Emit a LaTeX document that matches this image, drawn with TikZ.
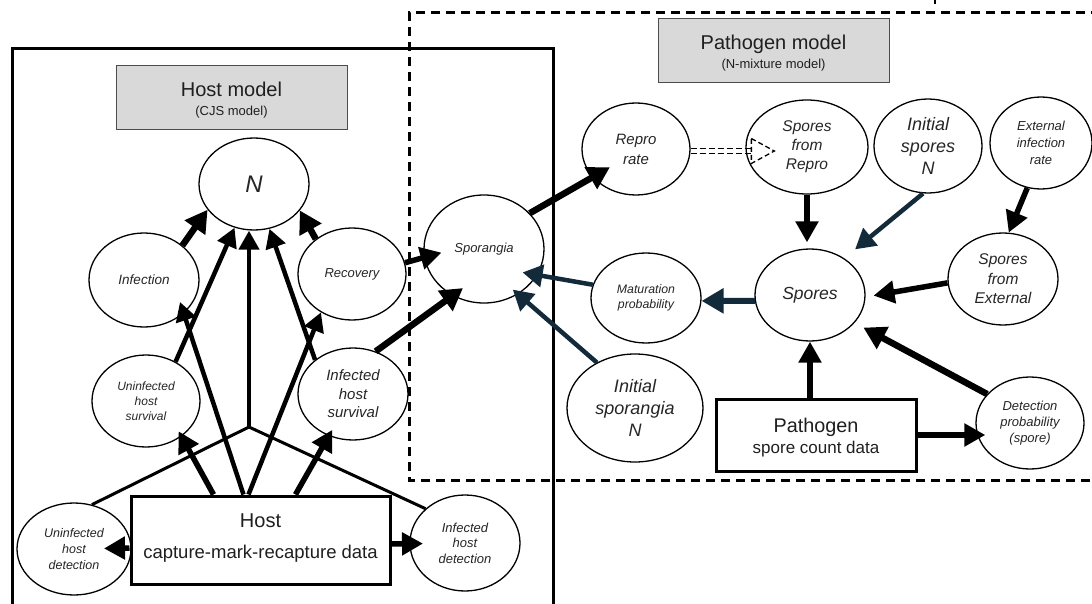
\documentclass[tikz,border=0pt]{standalone}
\usepackage{fontspec}
\setmainfont{Liberation Sans}
\usetikzlibrary{shapes.geometric,arrows.meta}
\newcommand{\myfs}[2]{\fontsize{#1}{#2}\selectfont}
\definecolor{nv}{RGB}{18,42,58}
\definecolor{tgray}{RGB}{217,217,217}
\begin{document}
\begin{tikzpicture}[x=1pt,y=-1pt,
 ell/.style={ellipse,draw,fill=white,line width=1.3pt,inner sep=0pt,align=center,text=black!85},
 esz/.style 2 args={minimum width=#1,minimum height=#2},
 dbox/.style={rectangle,draw,fill=white,line width=3pt,inner sep=0pt},
 tbox/.style={rectangle,draw=black!70,fill=tgray,line width=1pt,inner sep=0pt},
 ttext/.style={anchor=base,inner sep=0pt,text=black!88},
 arr/.style={line width=4.5pt,-{Triangle[length=19pt,width=20pt]}},
 arrM/.style={line width=5.5pt,-{Triangle[length=21pt,width=22pt]}},
 arrB/.style={line width=6.5pt,-{Triangle[length=22pt,width=24pt]}},
 nvA/.style={draw=nv,line width=4.5pt,-{Triangle[length=20pt,width=22pt]}},
 nvB/.style={draw=nv,line width=6pt,-{Triangle[length=22pt,width=24pt]}},
 link/.style={line width=3pt},
 ddash/.style={line width=1.3pt,dash pattern=on 6pt off 3pt},
 ]
\useasboundingbox (0,0) rectangle (1092,604);
\fill[white] (0,0) rectangle (1092,604);

% outer boxes
\draw[line width=3pt] (12,620) -- (12,49) -- (553,49) -- (553,620);
\draw[line width=3pt,dash pattern=on 9pt off 6pt] (1100,13) -- (409,13) -- (409,480) -- (1100,480);
\draw[line width=1.5pt] (935,0) -- (935,4);

% titles
\node[tbox,minimum width=231pt,minimum height=64pt] (ht) at (231.5,98) {};
\node[ttext,font=\myfs{20}{24}] (ht1) at (231.5,97) {Host model};
\node[ttext,font=\myfs{13}{16}] (ht2) at (231.5,116) {(CJS model)};
\node[tbox,minimum width=231pt,minimum height=64pt] (pt) at (773.5,51) {};
\node[ttext,font=\myfs{20}{24}] (pt1) at (773.5,50) {Pathogen model};
\node[ttext,font=\myfs{13}{16}] (pt2) at (773.5,69) {(N-mixture model)};

% host nodes
\node[ell,esz={110pt}{92pt},font=\itshape\myfs{24}{28}] (N) at (254,184) {N};
\node[ell,esz={110pt}{94pt},font=\itshape\myfs{13.5}{16}] (inf) at (144,280) {Infection};
\node[ell,esz={108pt}{92pt},font=\itshape\myfs{13}{16}] (rec) at (352,274) {Recovery};
\node[ell,esz={108pt}{92pt},font=\itshape\myfs{12}{15}] (ush) at (146,401) {Uninfected\\host\\survival};
\node[ell,esz={110pt}{92pt},font=\itshape\myfs{15}{18.5}] (ihs) at (353,394) {Infected\\host\\survival};
\node[ell,esz={114pt}{92pt},font=\itshape\myfs{12.5}{16}] (uhd) at (74,549) {Uninfected\\host\\detection};
\node[ell,esz={110pt}{96pt},font=\itshape\myfs{13}{15.5}] (ihd) at (465,543) {Infected\\host\\detection};
\node[dbox,minimum width=259pt,minimum height=88pt] (hd) at (260.5,540) {};
\node[ttext,font=\myfs{20}{24}] (hdt1) at (260.5,527) {Host};
\node[ttext,font=\myfs{18.5}{22}] (hdt2) at (260.5,558) {capture-mark-recapture data};
\coordinate (J) at (249,427);

% pathogen nodes
\node[ell,esz={120pt}{108pt},font=\itshape\myfs{13}{16}] (spg) at (484,249) {Sporangia};
\node[ell,esz={108pt}{92pt},font=\itshape\myfs{15}{20}] (rr) at (636,149) {Repro\\rate};
\node[ell,esz={122pt}{94pt},font=\itshape\myfs{15.5}{19}] (sfr) at (807,147) {Spores\\from\\Repro};
\node[ell,esz={108pt}{94pt},font=\itshape\myfs{18}{22}] (isn) at (928,146) {Initial\\spores\\N};
\node[ell,esz={102pt}{92pt},font=\itshape\myfs{13}{17}] (eir) at (1041,143) {External\\infection\\rate};
\node[ell,esz={110pt}{92pt},font=\itshape\myfs{15.5}{19.5}] (sfe) at (1003,279) {Spores\\from\\External};
\node[ell,esz={110pt}{92pt},font=\itshape\myfs{17.5}{21}] (sp) at (810,295) {Spores};
\node[ell,esz={110pt}{90pt},font=\itshape\myfs{12.3}{15}] (mp) at (646,298) {Maturation\\probability};
\node[ell,esz={136pt}{108pt},font=\itshape\myfs{18}{21.7}] (isp) at (635,408) {Initial\\sporangia\\N};
\node[ell,esz={108pt}{92pt},font=\itshape\myfs{13}{15.7}] (dp) at (1030,423) {Detection\\probability\\(spore)};
\node[dbox,minimum width=200pt,minimum height=72pt] (pd) at (816,435) {};
\node[ttext,font=\myfs{19.8}{24}] (pdt1) at (816,432) {Pathogen};
\node[ttext,font=\myfs{17}{20}] (pdt2) at (816,453) {spore count data};

% host connectors
\draw[arrB] (inf.42) -- (N.209);
\draw[arrB] (rec.136) -- (N.330);
\draw[arr] (ush.53) -- (N.246);
\draw[arr] (ihs.138) -- (N.289);
\draw[link] (uhd.68) -- (J) -- (ihd.139);
\draw[arr] (J) -- (J |- N.south);
\draw[arrM,shorten >=-6pt] ([xshift=-47pt]hd.north) -- (ush.315);
\draw[arr,shorten >=-12pt] ([xshift=-17pt]hd.north) -- (inf.320);
\draw[arr] ([xshift=-12pt]hd.north) -- (rec.231);
\draw[arrM,shorten >=-7pt] ([xshift=35pt]hd.north) -- (ihs.240);
\draw[arrM,shorten >=30pt] ([yshift=-8pt]hd.west) -- (uhd.center);
\draw[arrM,shorten >=42pt] ([yshift=-4pt]hd.east) -- (ihd.center);

% pathogen connectors
\draw[arrM,shorten >=-18pt] (rec.12) -- (spg.188);
\draw[arrB,shorten >=-13pt] (ihs.62) -- (spg.236);
\draw[arrB,shorten >=-20pt] (spg.38) -- (rr.213);
\coordinate (tb) at ([xshift=6pt,yshift=-4pt]sfr.west);
\coordinate (da) at (rr.east |- tb);
\draw[ddash] ([yshift=2.5pt]da) -- ([yshift=2.5pt]tb);
\draw[ddash] ([yshift=-2.5pt]da) -- ([yshift=-2.5pt]tb);
\draw[line width=1.3pt,dash pattern=on 5pt off 3pt] ([yshift=12.5pt]tb) -- ([xshift=23pt]tb) -- ([yshift=-12.5pt]tb) -- cycle;
\draw[arrM,shorten >=6pt] (sfr.south) -- (sfr.south |- sp.north);
\draw[nvA,shorten >=14pt] (isn.264) -- (sp.47);
\draw[arrM] (eir.253) -- (sfe.83);
\draw[arrM,shorten >=8pt] (sfe.184) -- (sp.358);
\draw[nvB] (sp.186) -- (mp.357);
\draw[nvA,shorten >=-15pt] (mp.166) -- (spg.334);
\draw[nvA,shorten >=-7pt] (isp.130) -- (spg.307);
\draw[arrM] (pd.north -| sp.south) -- (sp.south);
\draw[arrM,shorten >=-10pt] (pd.east) -- (pd.east -| dp.west);
\draw[arrB,shorten >=10pt] (dp.146) -- (sp.328);
\end{tikzpicture}
\end{document}
